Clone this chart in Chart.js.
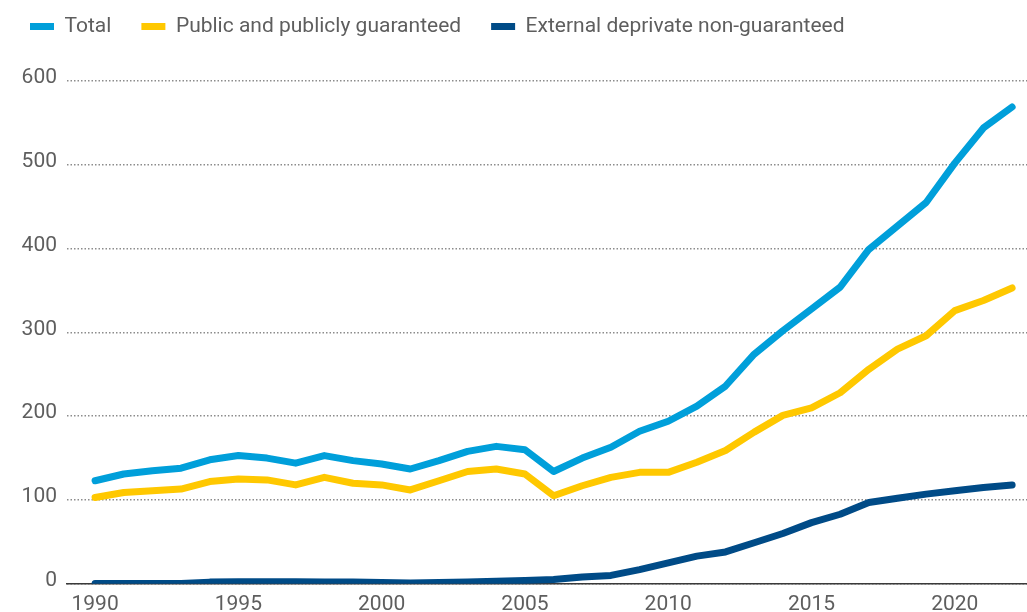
<!DOCTYPE html>
<html>
<head>
<meta charset="utf-8">
<script src="https://cdn.jsdelivr.net/npm/chart.js@4/dist/chart.umd.min.js"></script>
<style>
  html, body { margin: 0; padding: 0; background: #fff; }
  #wrap { width: 1027px; height: 612px; position: relative; }
</style>
</head>
<body>
<div id="wrap"><canvas id="myChart"></canvas></div>
<script>
var years = [1990, 1991, 1992, 1993, 1994, 1995, 1996, 1997, 1998, 1999, 2000, 2001, 2002, 2003, 2004, 2005, 2006,
  2007, 2008, 2009, 2010, 2011, 2012, 2013, 2014, 2015, 2016, 2017, 2018, 2019, 2020, 2021, 2022];
var total = [123, 131, 135, 138, 148, 153, 150, 144, 153, 147, 143, 137, 147, 158, 164, 160, 134,
  150, 163, 182, 194, 212, 236, 274, 302, 328, 354, 399, 427, 455, 502, 544, 569];
var publicGuaranteed = [103, 109, 111, 113, 122, 125, 124, 118, 127, 120, 118, 112, 123, 134, 137, 131, 105,
  117, 127, 133, 133, 145, 159, 181, 201, 210, 228, 256, 280, 296, 326, 338, 353];
var privateNonGuaranteed = [0.5, 0.5, 0.5, 0.5, 2, 2.5, 2.5, 2.5, 2, 2, 1.5, 1, 1.5, 2, 3, 4, 5,
  8, 10, 17, 25, 33, 38, 49, 60, 73, 83, 97, 102, 107, 111, 115, 118];
var tickYears = [1990, 1995, 2000, 2005, 2010, 2015, 2020];
var yTicks = [0, 100, 200, 300, 400, 500, 600];

var font = "'Liberation Sans Narrow', 'Arial Narrow', 'Roboto', sans-serif";
var textColor = '#5e5e5e';

function series(label, values, color) {
  return {
    label: label,
    data: values,
    borderColor: color,
    backgroundColor: color,
    borderWidth: 7,
    borderCapStyle: 'round',
    borderJoinStyle: 'round',
    pointRadius: 0,
    pointHoverRadius: 0,
    tension: 0,
    fill: false
  };
}

// push the plot down below the legend
var legendGap = {
  id: 'legendGap',
  beforeInit: function (chart) {
    var fit = chart.legend.fit;
    chart.legend.fit = function () {
      fit.bind(chart.legend)();
      this.height += 34;
    };
  }
};

var ctx = document.getElementById('myChart').getContext('2d');
var myChart = new Chart(ctx, {
  type: 'line',
  data: {
    labels: years,
    datasets: [
      series('Total', total, '#009fda'),
      series('Public and publicly guaranteed', publicGuaranteed, '#ffc800'),
      series('External deprivate non-guaranteed', privateNonGuaranteed, '#004b87')
    ]
  },
  options: {
    responsive: true,
    maintainAspectRatio: false,
    animation: false,
    layout: { padding: { left: 0, right: 0, top: -14, bottom: -13 } },
    plugins: {
      tooltip: { enabled: false },
      legend: {
        position: 'top',
        align: 'start',
        labels: {
          usePointStyle: true,
          pointStyle: 'line',
          pointStyleWidth: 24,
          boxHeight: 7,
          padding: 30,
          color: textColor,
          font: { family: font, size: 21 }
        }
      }
    },
    scales: {
      x: {
        type: 'linear',
        min: 1989.02,
        max: 2022.52,
        z: 1,
        afterBuildTicks: function (scale) {
          scale.ticks = tickYears.map(function (v) { return { value: v }; });
        },
        grid: { display: false, drawTicks: false },
        border: { display: true, color: '#3a3a3a', width: 1.5 },
        ticks: {
          padding: 8,
          color: textColor,
          font: { family: font, size: 21 },
          maxRotation: 0,
          callback: function (v) { return String(v); }
        }
      },
      y: {
        min: 0,
        max: 600,
        afterBuildTicks: function (scale) {
          scale.ticks = yTicks.map(function (v) { return { value: v }; });
        },
        afterFit: function (scale) { scale.width = 67; },
        grid: { color: '#8c8c8c', lineWidth: 1.5, drawTicks: false },
        border: { display: false, dash: [1.5, 2] },
        ticks: {
          padding: 10,
          labelOffset: -3,
          color: textColor,
          font: { family: font, size: 21 }
        }
      }
    }
  },
  plugins: [legendGap]
});
</script>
</body>
</html>
